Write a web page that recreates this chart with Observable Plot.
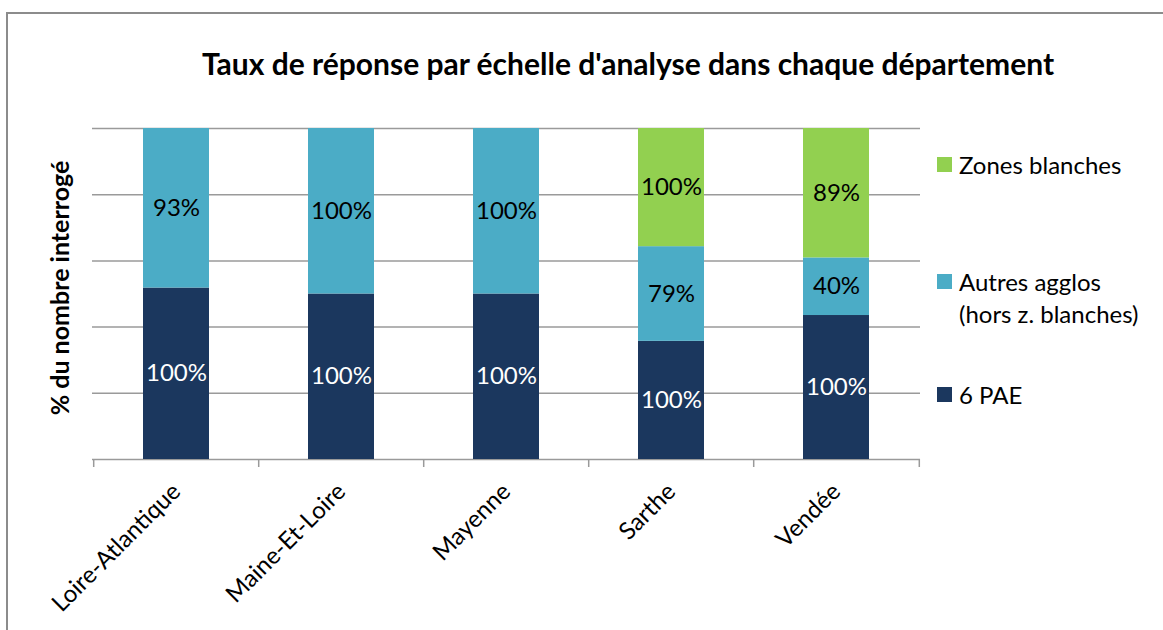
<!DOCTYPE html>
<html>
<head>
<meta charset="utf-8">
<script src="https://cdn.jsdelivr.net/npm/d3@7"></script>
<script src="https://cdn.jsdelivr.net/npm/@observablehq/plot@0.6"></script>
<style>
  html, body { margin: 0; padding: 0; background: #fff; overflow: hidden; }
  #wrap { position: relative; width: 1163px; height: 630px; overflow: hidden; font-family: Lato, "Noto Sans", sans-serif; }
  #frame { position: absolute; left: 6px; top: 12px; width: 2000px; height: 2000px; border-top: 2px solid #8c8c8c; border-left: 2px solid #8c8c8c; }
  #chart { position: absolute; left: 0; top: 0; }
  #title { position: absolute; left: 0; width: 1256px; top: 45px; text-align: center; font-weight: bold; font-size: 30px; color: #000; white-space: nowrap; }
  #ylabel { position: absolute; left: 59px; top: 288px; transform: translate(-50%, -50%) rotate(-90deg); font-weight: bold; font-size: 25px; white-space: nowrap; color: #000; }
  .leg { position: absolute; left: 937px; font-size: 24px; color: #000; line-height: 31.6px; }
  .leg .sw { position: absolute; left: 0; top: 8px; width: 15px; height: 15px; }
  .leg .tx { position: absolute; left: 22px; top: 0; white-space: nowrap; }
</style>
</head>
<body>
<div id="wrap">
  <div id="frame"></div>
  <div id="chart"></div>
  <div id="title"></div>
  <div id="ylabel"></div>
  <div id="legend"></div>
</div>
<script>
const titleText = "Taux de réponse par échelle d'analyse dans chaque département";
const yLabel = "% du nombre interrogé";
const departements = ["Loire-Atlantique", "Maine-Et-Loire", "Mayenne", "Sarthe", "Vendée"];
const series = ["6 PAE", "Autres agglos (hors z. blanches)", "Zones blanches"];
const seriesLegend = [["6 PAE"], ["Autres agglos", "(hors z. blanches)"], ["Zones blanches"]];
const colors = ["#1b375e", "#4bacc6", "#92d050"];
const labelColors = ["#ffffff", "#000000", "#000000"];
// share of the number interrogated (segment heights, %)
const partPAE = [51.8, 50, 50, 35.7, 43.5];
const partAutres = [48.2, 50, 50, 28.6, 17.4];
const partZones = [0, 0, 0, 35.7, 39.1];
// response rates shown as labels (%)
const tauxPAE = [100, 100, 100, 100, 100];
const tauxAutres = [93, 100, 100, 79, 40];
const tauxZones = [null, null, null, 100, 89];
const gridTicks = [0, 20, 40, 60, 80, 100];

const parts = [partPAE, partAutres, partZones];
const taux = [tauxPAE, tauxAutres, tauxZones];
const rows = [];
series.forEach((s, si) => {
  departements.forEach((d, di) => {
    if (parts[si][di] > 0) rows.push({dep: d, serie: s, si, part: parts[si][di], taux: taux[si][di]});
  });
});

const W = 1163, H = 630, mL = 92, mR = 243, mT = 128, mB = 171;
const step = (W - mL - mR) / departements.length;

document.getElementById("title").textContent = titleText;
document.getElementById("ylabel").textContent = yLabel;

const chart = Plot.plot({
  width: W,
  height: H,
  marginLeft: mL,
  marginRight: mR,
  marginTop: mT,
  marginBottom: mB,
  style: {fontFamily: "Lato, 'Noto Sans', sans-serif", background: "transparent"},
  x: {domain: departements, paddingInner: 0.6, paddingOuter: 0.3, label: null},
  y: {domain: [0, 100], axis: null, label: null},
  color: {domain: series, range: colors},
  marks: [
    Plot.ruleY(gridTicks, {stroke: "#9a9a9a", strokeWidth: 1.5}),
    Plot.ruleX(departements, {x: d => d, y1: 0, y2: 0, insetBottom: -8, dx: -step / 2, stroke: "#9a9a9a", strokeWidth: 1.5}),
    Plot.ruleX(departements.slice(-1), {x: d => d, y1: 0, y2: 0, insetBottom: -8, dx: step / 2, stroke: "#9a9a9a", strokeWidth: 1.5}),
    Plot.barY(rows, Plot.stackY({x: "dep", y: "part", fill: "serie", order: null})),
    Plot.text(rows.filter(r => r.taux != null), Plot.stackY({
      x: "dep", y: "part", order: null,
      text: r => r.taux + "%",
      fill: r => labelColors[r.si],
      fontSize: 24
    })),
    Plot.axisX({tickRotate: -45, tickSize: 0, tickPadding: 28, fontSize: 24, fill: "#000", label: null})
  ]
});
document.getElementById("chart").appendChild(chart);

const legend = document.getElementById("legend");
const legTops = {"Zones blanches": 149, "Autres agglos (hors z. blanches)": 266, "6 PAE": 379};
[2, 1, 0].forEach(si => {
  const div = document.createElement("div");
  div.className = "leg";
  div.style.top = legTops[series[si]] + "px";
  const sw = document.createElement("div");
  sw.className = "sw";
  sw.style.background = colors[si];
  const tx = document.createElement("div");
  tx.className = "tx";
  tx.innerHTML = seriesLegend[si].join("<br>");
  div.appendChild(sw); div.appendChild(tx);
  legend.appendChild(div);
});
</script>
</body>
</html>
